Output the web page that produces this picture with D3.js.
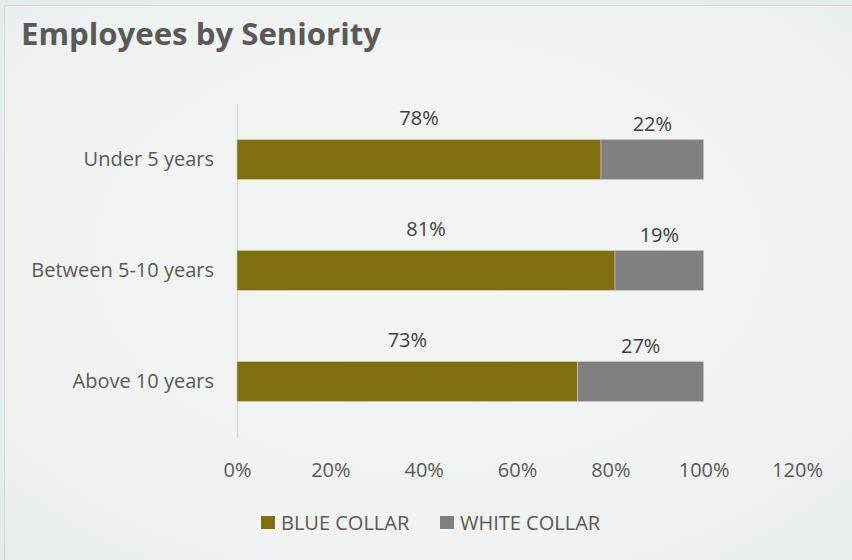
<!DOCTYPE html>
<html>
<head>
<meta charset="utf-8">
<script src="https://cdn.jsdelivr.net/npm/d3@7"></script>
<style>
  body { margin: 0; background: #e6eeee; }
  svg { display: block; font-family: "Open Sans", Lato, sans-serif; }
</style>
</head>
<body>
<svg id="chart" width="852" height="560"></svg>
<script>
var categories = ["Under 5 years", "Between 5-10 years", "Above 10 years"];
var blueCollar = [78, 81, 73];
var whiteCollar = [22, 19, 27];
var seriesNames = ["BLUE COLLAR", "WHITE COLLAR"];
var tickValues = [0, 20, 40, 60, 80, 100, 120];

var colors = ["#7f6f0f", "#808080"];
var fontFamily = "'Open Sans', Lato, sans-serif";
var labelSize = 20;

var svg = d3.select("#chart");
var width = 852, height = 560;

// background with a faint texture
var defs = svg.append("defs");
var grad = defs.append("radialGradient").attr("id", "bg").attr("cx", "50%").attr("cy", "45%").attr("r", "75%");
grad.append("stop").attr("offset", "0%").attr("stop-color", "#f3f4f4");
grad.append("stop").attr("offset", "70%").attr("stop-color", "#f1f2f2");
grad.append("stop").attr("offset", "100%").attr("stop-color", "#e5eded");

svg.append("rect").attr("width", width).attr("height", height).attr("fill", "#e4ecec");
svg.append("rect")
    .attr("x", 4.5).attr("y", 5.5)
    .attr("width", width - 4).attr("height", height - 4)
    .attr("fill", "url(#bg)")
    .attr("stroke", "#d9d9d9");

svg.append("text")
    .attr("x", 21).attr("y", 45)
    .attr("font-size", 30).attr("font-weight", 700)
    .attr("fill", "#595959")
    .attr("textLength", 360).attr("lengthAdjust", "spacingAndGlyphs")
    .text("Employees by Seniority");

var x = d3.scaleLinear().domain([0, 120]).range([237, 797]);
var y = d3.scaleBand().domain(categories).range([104, 437]).paddingInner(0.64).paddingOuter(0.32);

var rows = categories.map(function (c, i) {
    return { cat: c, blue: blueCollar[i], white: whiteCollar[i] };
});

// x axis: labels only
var xAxis = svg.append("g")
    .attr("transform", "translate(0,437)")
    .call(d3.axisBottom(x).tickValues(tickValues).tickFormat(function (d) { return d + "%"; }).tickSize(0).tickPadding(26));
xAxis.select(".domain").remove();
xAxis.selectAll("text").attr("font-size", labelSize).attr("fill", "#595959").attr("font-family", fontFamily);

// y axis
var yAxis = svg.append("g")
    .attr("transform", "translate(237,0)")
    .call(d3.axisLeft(y).tickSize(0).tickPadding(23).tickSizeOuter(0));
yAxis.select(".domain").attr("stroke", "#d9d9d9").attr("stroke-width", 1.5);
yAxis.selectAll("text").attr("font-size", labelSize).attr("fill", "#595959").attr("font-family", fontFamily);

var g = svg.append("g");

var rowG = g.selectAll("g.row").data(rows).enter().append("g").attr("class", "row");

rowG.append("rect")
    .attr("x", x(0))
    .attr("y", function (d) { return y(d.cat); })
    .attr("width", function (d) { return x(d.blue) - x(0); })
    .attr("height", y.bandwidth())
    .attr("fill", colors[0])
    .attr("stroke", "#d0d0c0").attr("stroke-width", 0.6);

rowG.append("rect")
    .attr("x", function (d) { return x(d.blue); })
    .attr("y", function (d) { return y(d.cat); })
    .attr("width", function (d) { return x(d.blue + d.white) - x(d.blue); })
    .attr("height", y.bandwidth())
    .attr("fill", colors[1])
    .attr("stroke", "#c8c8c8").attr("stroke-width", 0.6);

rowG.append("text")
    .attr("x", function (d) { return x(d.blue / 2); })
    .attr("y", function (d) { return y(d.cat) - 15; })
    .attr("text-anchor", "middle")
    .attr("font-size", labelSize).attr("fill", "#404040")
    .text(function (d) { return d.blue + "%"; });

rowG.append("text")
    .attr("x", function (d) { return x(d.blue + d.white / 2); })
    .attr("y", function (d) { return y(d.cat) - 9; })
    .attr("text-anchor", "middle")
    .attr("font-size", labelSize).attr("fill", "#404040")
    .text(function (d) { return d.white + "%"; });

// legend
var legendX = [261, 440];
var legend = svg.selectAll("g.legend").data(seriesNames).enter().append("g")
    .attr("class", "legend")
    .attr("transform", function (d, i) { return "translate(" + legendX[i] + ",516)"; });
legend.append("rect").attr("width", 14).attr("height", 13).attr("fill", function (d, i) { return colors[i]; });
legend.append("text")
    .attr("x", 20).attr("y", 13.5)
    .attr("font-size", labelSize).attr("fill", "#595959")
    .text(function (d) { return d; });
</script>
</body>
</html>
